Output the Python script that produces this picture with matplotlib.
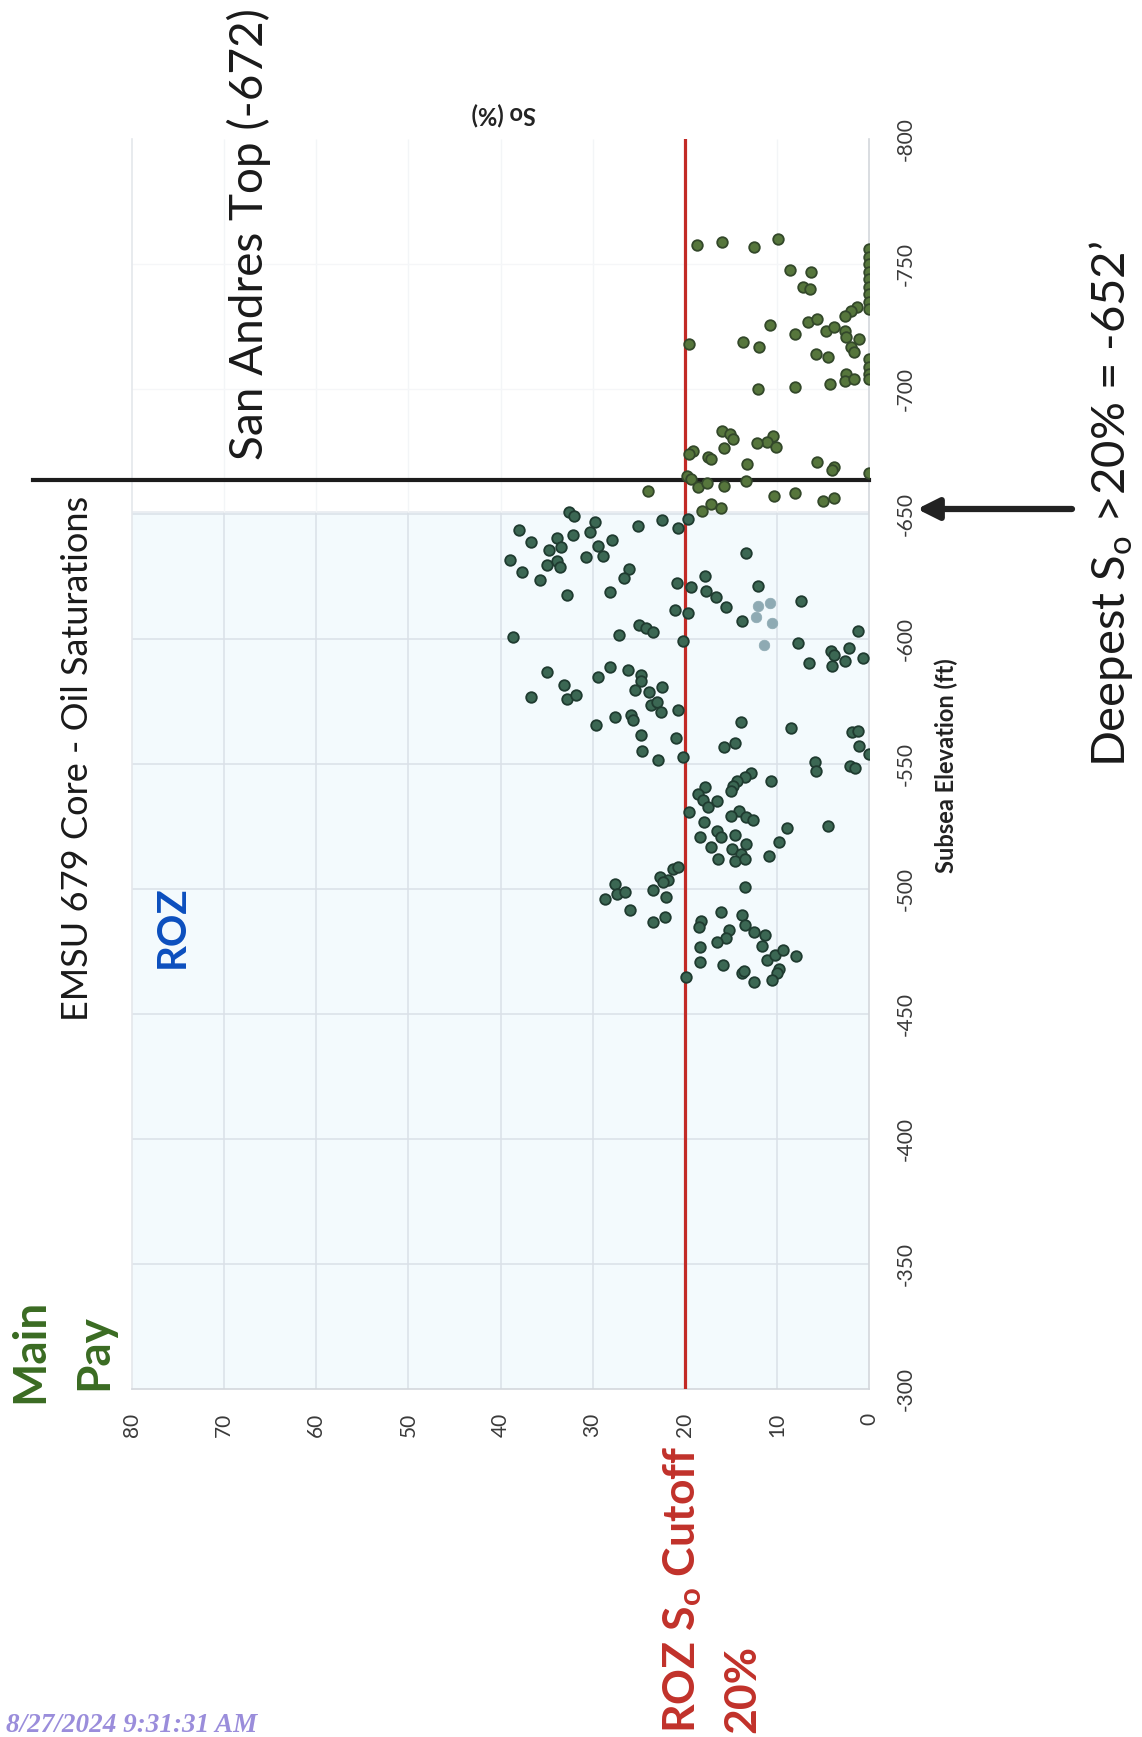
import matplotlib
matplotlib.use("Agg")
import matplotlib.pyplot as plt
import numpy as np

plt.rcParams['font.family'] = ['Lato', 'DejaVu Sans']
plt.rcParams['mathtext.fontset'] = 'custom'
plt.rcParams['mathtext.rm'] = 'Lato'
plt.rcParams['mathtext.bf'] = 'Lato:bold'
plt.rcParams['mathtext.it'] = 'Lato:italic'

# --- data (So %, subsea elevation ft) ---
# points above the ROZ window (olive markers)
so_upper = [18.7, 16.0, 12.5, 9.9, 8.6, 6.3, 7.2, 6.4,
            0.0, 0.0, 0.0, 0.0, 0.0, 0.0, 0.0, 0.0, 0.0,
            0.0, 0.0, 0.0, 0.0,
            1.3, 1.9, 2.6, 10.8, 6.6, 5.6, 8.0, 4.7, 3.8, 2.6, 2.5, 1.1,
            13.7, 11.9, 19.5, 5.8, 4.5, 1.9, 1.6, 2.5, 2.6, 1.6, 4.2, 8.0, 12.0,
            16.0, 15.1, 14.8, 10.4, 11.1, 12.2, 10.1, 15.7, 19.1, 19.5, 17.5, 17.2,
            5.6, 3.8, 4.0, 13.2, 0.0, 19.8, 19.3, 18.6, 17.6, 15.7, 13.4, 24.0,
            10.3, 8.0, 5.0, 3.8, 17.1, 16.1, 18.1]
elev_upper = [-757.7, -758.9, -756.9, -760.0, -747.7, -746.8, -741.0, -739.9,
              -756, -753, -750, -747, -744, -741, -738, -735, -732,
              -712, -709, -706, -704,
              -732.7, -731.3, -729.3, -725.7, -727.0, -728.0, -722.0, -723.3, -725.0, -723.3, -720.7, -719.9,
              -719.0, -716.7, -718.0, -714.0, -713.0, -716.7, -715.0, -706.0, -703.3, -704.0, -702.0, -701.0, -700.0,
              -683.3, -682.0, -680.0, -681.3, -678.7, -678.3, -677.0, -676.3, -675.3, -674.0, -673.0, -672.0,
              -671.0, -669.0, -667.5, -670.0, -666.3, -665.2, -664.0, -661.0, -662.3, -661.3, -663.3, -659.3,
              -657.3, -658.3, -655.3, -656.3, -654.0, -652.4, -651.3]

# points inside the ROZ window (dark green markers)
so_lower = [19.6, 20.7, 22.5, 25.1, 32.6, 32.0, 29.7, 38.0, 36.7, 33.9, 32.1, 30.3, 27.9, 29.4,
            34.7, 33.4, 39.0, 37.7, 35.0, 33.9, 33.5, 30.7, 28.9, 35.7, 32.8, 26.1, 26.6, 13.4,
            20.8, 19.3, 17.8, 28.1, 17.7, 16.6, 15.5, 12.0, 13.8, 7.4, 21.1, 19.6, 25.0, 24.2,
            23.4, 38.6, 27.1, 20.2, 1.2, 7.7, 6.5, 4.1, 3.8, 4.0, 2.2, 2.6, 0.7, 35.0, 33.1,
            32.8, 31.8, 36.7, 29.4, 28.1, 26.2, 24.7, 24.7, 25.4, 23.9, 22.5, 23.7, 23.0, 22.6,
            20.7, 29.6, 27.6, 25.8, 25.6, 24.8, 24.6, 22.9, 20.9, 20.2, 13.9, 8.5, 14.5, 15.7,
            1.8, 1.2, 1.1, 0.0, 5.9, 5.8, 2.1, 1.5, 10.6, 12.8, 13.5, 14.3, 14.8, 15.0, 17.8,
            18.6, 18.0, 17.5, 16.5, 19.5, 14.1, 13.3, 12.6, 15.0, 17.9, 8.9, 4.4, 16.5, 16.1,
            18.3, 17.1, 14.5, 13.4, 14.9, 13.9, 14.5, 13.5, 16.4, 9.8, 10.9, 21.3, 20.7, 22.7,
            21.8, 22.4, 13.5, 23.5, 22.0, 27.6, 27.4, 26.5, 28.7, 25.9, 23.4, 22.1, 16.1, 18.2,
            18.4, 13.8, 13.5, 15.2, 15.5, 16.5, 12.5, 11.3, 11.6, 18.3, 18.3, 15.8, 11.1, 10.2,
            9.3, 7.9, 9.8, 10.0, 13.8, 13.6, 12.5, 10.5, 19.9]
elev_lower = [-648.0, -644.4, -647.6, -645.3, -650.7, -649.3, -646.7, -643.7, -638.7, -640.4, -641.6, -642.7, -639.6, -637.3,
              -635.6, -636.7, -631.7, -626.7, -629.7, -631.3, -628.7, -632.7, -633.3, -623.6, -617.6, -628.0, -624.4, -634.3,
              -622.3, -620.7, -625.3, -618.7, -619.3, -616.7, -612.7, -621.3, -607.3, -615.3, -611.6, -610.3, -605.7, -604.4,
              -602.7, -600.9, -601.7, -599.3, -603.3, -598.4, -590.4, -595.3, -593.7, -589.3, -596.3, -591.3, -592.3, -586.7, -581.6,
              -576.0, -577.6, -576.7, -584.7, -588.7, -587.6, -585.7, -583.3, -579.6, -578.7, -580.7, -573.7, -575.0, -570.7,
              -571.6, -565.7, -568.7, -569.6, -567.6, -561.6, -555.3, -551.6, -560.4, -552.9, -566.7, -564.3, -558.4, -556.7,
              -562.7, -563.3, -557.3, -554.0, -550.7, -547.3, -549.3, -548.3, -543.3, -546.3, -544.7, -543.1, -541.3, -539.3, -540.7,
              -538.0, -535.6, -532.7, -535.3, -530.7, -531.3, -528.7, -527.6, -529.3, -526.7, -524.4, -525.3, -523.3, -520.7,
              -520.7, -516.7, -521.6, -518.0, -516.0, -514.0, -511.3, -512.0, -512.0, -518.7, -513.3, -508.0, -508.9, -504.9,
              -503.6, -502.7, -500.7, -499.6, -496.7, -502.0, -498.0, -498.7, -496.0, -491.7, -486.9, -488.7, -490.7, -487.3,
              -484.9, -489.7, -485.7, -483.6, -480.4, -478.7, -482.7, -481.7, -477.3, -476.7, -470.7, -469.7, -471.7, -473.7,
              -475.6, -473.3, -468.0, -466.3, -466.3, -467.3, -462.7, -463.6, -464.7]

# pale samples
so_light = [12.0, 10.8, 12.3, 10.5, 11.4]
elev_light = [-613.3, -614.4, -608.7, -606.4, -597.7]

so_ticks = [80, 70, 60, 50, 40, 30, 20, 10, 0]
elev_ticks = [-300, -350, -400, -450, -500, -550, -600, -650, -700, -750, -800]

roz_cutoff = 20
san_andres_top = -663.7
deepest_roz = -652
roz_window_top = -651

W, H = 1142, 1737
fig = plt.figure(figsize=(W / 100, H / 100), dpi=100)
fig.patch.set_facecolor('white')


def fx(px):
    return px / W


def fy(py):
    return 1 - py / H


ax = fig.add_axes([fx(132), fy(1389), (869 - 132) / W, (1389 - 139) / H])
ax.set_xlim(80, 0)
ax.set_ylim(-300, -800)
ax.set_facecolor('white')

# very light blue ROZ window with grid, faint grid above
ax.axhspan(roz_window_top, -300, color='#f3fafd', zorder=0, lw=0)
ax.vlines(so_ticks[1:-1], roz_window_top, -300, colors='#dae0e8', lw=1.1, zorder=1)
ax.hlines([e for e in elev_ticks if roz_window_top <= e < -300], 80, 0,
          colors='#dae0e8', lw=1.1, zorder=1)
ax.hlines([roz_window_top], 80, 0, colors='#e6eaef', lw=1.1, zorder=1)
ax.vlines(so_ticks[1:-1], -800, roz_window_top, colors='#f3f5f7', lw=1.0, zorder=1)
ax.hlines([-700, -750], 80, 0, colors='#f5f6f8', lw=1.0, zorder=1)

ax.spines['top'].set_visible(False)
ax.spines['left'].set_color('#e4e7eb')
ax.spines['right'].set_color('#d3d7dc')
ax.spines['bottom'].set_color('#d3d7dc')
for side in ['left', 'right', 'bottom']:
    ax.spines[side].set_linewidth(1.2)

# cutoff and formation top
ax.axvline(roz_cutoff, color='#c22a26', lw=2.3, zorder=3)
ax.plot([90.8, 0], [san_andres_top, san_andres_top], color='#1c1c1c', lw=3.0,
        clip_on=False, zorder=4)

ax.scatter(so_upper, elev_upper, s=58, facecolor='#56763c', edgecolor='#33482a',
           linewidths=1.3, zorder=5)
ax.scatter(so_lower, elev_lower, s=58, facecolor='#3b6753', edgecolor='#1f3b30',
           linewidths=1.3, zorder=5)
ax.scatter(so_light, elev_light, s=58, facecolor='#8eaab3', edgecolor='#8eaab3',
           linewidths=0.5, zorder=5)

ax.set_xticks(so_ticks)
ax.set_xticklabels([str(t) for t in so_ticks], rotation=90)
ax.yaxis.tick_right()
ax.set_yticks(elev_ticks)
ax.set_yticklabels([str(t) for t in elev_ticks], rotation=90, va='center')
ax.tick_params(axis='x', length=0, pad=17, labelsize=15, labelcolor='#3a3a3a')
ax.tick_params(axis='y', length=0, pad=19, labelsize=15, labelcolor='#3a3a3a')

# arrow to deepest So > 20%
ax.annotate('', xy=(917, deepest_roz), xycoords=('figure pixels', 'data'),
            xytext=(1072, deepest_roz), textcoords=('figure pixels', 'data'),
            arrowprops=dict(arrowstyle='-|>', lw=4.5, color='#222222', mutation_scale=32,
                            shrinkA=0, shrinkB=0),
            annotation_clip=False)

kw = dict(rotation=90, rotation_mode='anchor', ha='center', va='center')
fig.text(fx(249), fy(234), 'San Andres Top (-672)', fontsize=33, color='#1a1a1a', **kw)
fig.text(fx(78), fy(758), 'EMSU 679 Core - Oil Saturations', fontsize=26, color='#1a1a1a', **kw)
fig.text(fx(172), fy(927), 'ROZ', fontsize=29, fontweight='bold', color='#0b4fbe', **kw)
fig.text(fx(30), fy(1351), 'Main', fontsize=33, fontweight='bold', color='#3a6b22', **kw)
fig.text(fx(94), fy(1352), 'Pay', fontsize=33, fontweight='bold', color='#3a6b22', **kw)
fig.text(fx(1111), fy(504), r'Deepest S$_\mathrm{o}$ >20% = -652’', fontsize=34,
         color='#1a1a1a', **kw)
fig.text(fx(946), fy(766), 'Subsea Elevation (ft)', fontsize=17, fontweight='bold',
         color='#222222', **kw)
fig.text(fx(504), fy(114), 'So (%)', fontsize=17, fontweight='bold', color='#222222',
         rotation=180, rotation_mode='anchor', ha='center', va='center')

kw_left = dict(rotation=90, rotation_mode='anchor', ha='left', va='center')
fig.text(fx(683), fy(1733), r'ROZ S$_\mathbf{o}$ Cutoff', fontsize=32, fontweight='bold',
         color='#c1312a', **kw_left)
fig.text(fx(742), fy(1733), '20%', fontsize=32, fontweight='bold', color='#c1312a', **kw_left)

fig.text(fx(6), fy(1726), '8/27/2024 9:31:31 AM', fontsize=19.5, style='italic',
         fontweight='bold', family=['Liberation Serif', 'DejaVu Serif'], color='#9a8ddb',
         ha='left', va='center')

fig.savefig('out.png', dpi=100)
